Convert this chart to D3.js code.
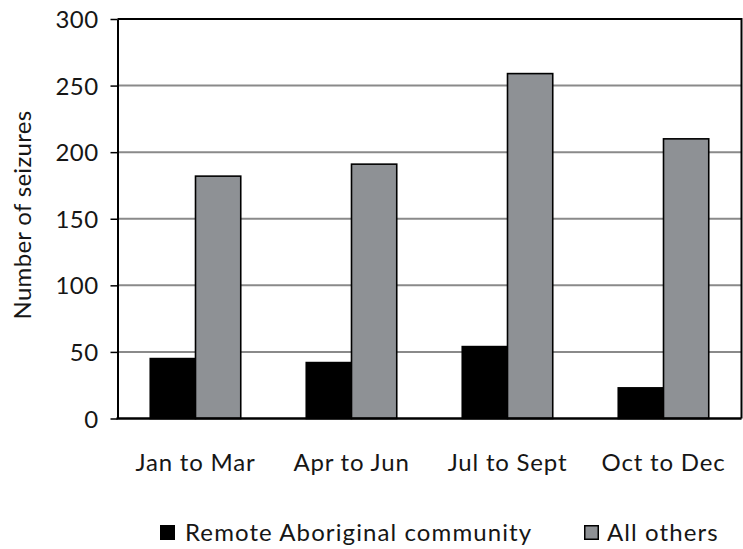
<!DOCTYPE html>
<html>
<head>
<meta charset="utf-8">
<script src="https://cdn.jsdelivr.net/npm/d3@7"></script>
<style>
  body { margin: 0; background: #fff; }
  svg text { font-family: Lato, "Open Sans", sans-serif; fill: #161616; }
</style>
</head>
<body>
<div id="chart"></div>
<script>

// data
var categories = ["Jan to Mar", "Apr to Jun", "Jul to Sept", "Oct to Dec"];
var seriesNames = ["Remote Aboriginal community", "All others"];
var remote = [45, 42, 54, 23];
var others = [182, 191, 259, 210];
var yTicks = [0, 50, 100, 150, 200, 250, 300];
var colours = ["#000000", "#8e9195"];

var width = 743;
var height = 549;

var margin = {
    top: 19,
    bottom: 130.5,
    left: 117.5,
    right: 1.5,
};

var svg = d3.select("#chart")
    .append("svg")
    .attr("width", width)
    .attr("height", height);

var plotW = width - margin.left - margin.right;
var plotH = height - margin.top - margin.bottom;

var g = svg.append("g")
    .attr("transform", "translate(" + margin.left + "," + margin.top + ")");

//group scale for the quarters, inner scale for the two series
var x0 = d3.scaleBand()
    .domain(categories)
    .range([0, plotW])
    .paddingInner(0.42)
    .paddingOuter(0.21);

var x1 = d3.scaleBand()
    .domain([0, 1])
    .range([0, x0.bandwidth()]);

var y = d3.scaleLinear()
    .domain([0, 300])
    .range([plotH, 0]);

// grid lines (top one is the black frame)
g.append("g")
    .selectAll("line")
    .data(yTicks.filter(function(d) { return d > 0 && d < 300; }))
    .enter()
    .append("line")
    .attr("x1", 0)
    .attr("x2", plotW)
    .attr("y1", function(d) { return y(d); })
    .attr("y2", function(d) { return y(d); })
    .style("stroke", "#8a8a8a")
    .style("stroke-width", 2);

// rows of values per quarter
var rows = categories.map(function(c, i) {
    return { key: c, values: [remote[i], others[i]] };
});

var groups = g.append("g")
    .selectAll("g")
    .data(rows)
    .enter()
    .append("g")
    .attr("transform", function(d) { return "translate(" + x0(d.key) + ",0)"; });

groups.selectAll("rect")
    .data(function(d) { return d.values.map(function(v, j) { return { s: j, value: v }; }); })
    .enter()
    .append("rect")
    .attr("x", function(d) { return x1(d.s); })
    .attr("y", function(d) { return y(d.value); })
    .attr("width", x1.bandwidth())
    .attr("height", function(d) { return plotH - y(d.value); })
    .style("fill", function(d) { return colours[d.s]; })
    .style("stroke", "#000")
    .style("stroke-width", 1.6);

// frame: top and right
g.append("path")
    .attr("d", "M0,0H" + plotW + "V" + plotH)
    .style("fill", "none")
    .style("stroke", "#000")
    .style("stroke-width", 2);

// y axis
var yAxis = g.append("g")
    .call(d3.axisLeft(y).tickValues(yTicks).tickSize(7).tickPadding(12).tickSizeOuter(0));
yAxis.select(".domain").style("stroke", "#000").style("stroke-width", 2);
yAxis.selectAll(".tick line").style("stroke", "#000").style("stroke-width", 1.5);
yAxis.selectAll("text")
    .style("font-size", "24px")
    .style("letter-spacing", "0.4px")
    .attr("dy", "0.36em");

// x axis
var xAxis = g.append("g")
    .attr("transform", "translate(0," + plotH + ")")
    .call(d3.axisBottom(x0).tickSize(0).tickPadding(35));
xAxis.select(".domain").remove();
xAxis.selectAll("text")
    .style("font-size", "24px")
    .style("letter-spacing", "0.8px");

g.append("line")
    .attr("x1", -1)
    .attr("x2", plotW)
    .attr("y1", plotH)
    .attr("y2", plotH)
    .style("stroke", "#000")
    .style("stroke-width", 2.5);

// y label
svg.append("text")
    .attr("transform", "translate(31,215) rotate(-90)")
    .style("text-anchor", "middle")
    .style("font-size", "24px")
    .style("letter-spacing", "0.3px")
    .text("Number of seizures");

// legend
var legendX = [160, 584];
var legend = svg.append("g")
    .selectAll("g")
    .data(seriesNames)
    .enter()
    .append("g")
    .attr("transform", function(d, i) { return "translate(" + legendX[i] + ",525)"; });

legend.append("rect")
    .attr("x", function(d, i) { return i ? 0.75 : 0; })
    .attr("y", function(d, i) { return i ? 0.75 : 0; })
    .attr("width", function(d, i) { return i ? 13.5 : 15; })
    .attr("height", function(d, i) { return i ? 13.5 : 15; })
    .style("fill", function(d, i) { return colours[i]; })
    .style("stroke", function(d, i) { return i ? "#000" : "none"; })
    .style("stroke-width", 1.5);

legend.append("text")
    .attr("x", function(d, i) { return i ? 23 : 25; })
    .attr("y", 16)
    .style("font-size", "24px")
    .style("letter-spacing", "1.1px")
    .text(function(d) { return d; });

</script>
</body>
</html>
